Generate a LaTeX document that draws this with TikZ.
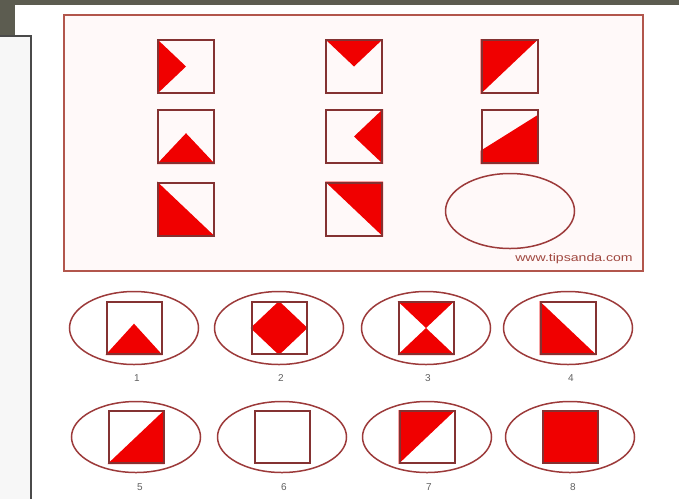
\documentclass[tikz,border=0pt]{standalone}
\usepackage{fontspec}
\setsansfont{Liberation Sans}
\usetikzlibrary{shapes.geometric,calc}
\definecolor{barcol}{HTML}{5C5C50}
\definecolor{framegray}{HTML}{4A4A4A}
\definecolor{sidegray}{HTML}{F7F7F7}
\definecolor{panelline}{HTML}{B2564C}
\definecolor{panelbg}{HTML}{FFF9F9}
\definecolor{tileline}{HTML}{843232}
\definecolor{ovalline}{HTML}{9C3A3A}
\definecolor{tilered}{HTML}{F00000}
\definecolor{numgray}{HTML}{606060}
\definecolor{markcol}{HTML}{A04840}
\pgfdeclarelayer{bg}
\pgfsetlayers{bg,main}
\tikzset{
  tile/.style={draw=tileline, line width=2pt, minimum width=56pt, minimum height=53pt, inner sep=0pt},
  opttile/.style={tile, minimum width=55pt, minimum height=52pt},
  oval/.style={ellipse, draw=ovalline, line width=1.5pt, minimum width=129pt, minimum height=73pt, inner sep=0pt},
  num/.style={font=\sffamily\fontsize{10}{11}\selectfont, text=numgray},
}
\begin{document}
\begin{tikzpicture}[x=1pt,y=-1pt]
  \useasboundingbox (0,0) rectangle (679,499);
  % page frame
  \fill[barcol] (0,0) rectangle (679,5);
  \fill[barcol] (0,0) rectangle (15,35);
  \fill[sidegray] (0,36) rectangle (31,499);
  \draw[framegray, line width=1.8pt] (0,36) -- (31,36) -- (31,499);
  \begin{pgfonlayer}{bg}
    \filldraw[fill=panelbg, draw=panelline, line width=2pt] (64,15) rectangle (643,271);
  \end{pgfonlayer}

  % puzzle grid
  \node[tile] (t11) at (186,66.5) {};
  \node[tile] (t12) at (354,66.5) {};
  \node[tile] (t13) at (509.5,66.5) {};
  \node[tile] (t21) at (186,136.5) {};
  \node[tile] (t22) at (354,136.5) {};
  \node[tile] (t23) at (509.5,136.5) {};
  \node[tile] (t31) at (186,209) {};
  \node[tile] (t32) at (354,209) {};
  \node[oval, minimum height=75pt] (q) at (510,211) {};
  \node[font=\sffamily\fontsize{11}{12}\selectfont, text=markcol] (mark) at (574,259)
    {\scalebox{1.28}[1]{www.tipsanda.com}};

  % answer choices
  \node[oval] (o1) at (134,328) {};
  \node[oval] (o2) at (279,328) {};
  \node[oval] (o3) at (426,328) {};
  \node[oval] (o4) at (568,328) {};
  \node[oval, minimum height=71pt] (o5) at (136,437) {};
  \node[oval, minimum height=71pt] (o6) at (282,437) {};
  \node[oval, minimum height=71pt] (o7) at (427,437) {};
  \node[oval, minimum height=71pt] (o8) at (570,437) {};
  \node[opttile] (s1) at (o1) {};
  \node[opttile] (s2) at (o2) {};
  \node[opttile] (s3) at (o3) {};
  \node[opttile] (s4) at (o4) {};
  \node[opttile] (s5) at (o5) {};
  \node[opttile] (s6) at (o6) {};
  \node[opttile] (s7) at (o7) {};
  \node[opttile] (s8) at (o8) {};
  \node[num] (n1) at (137,378) {1};
  \node[num] (n2) at (281,378) {2};
  \node[num] (n3) at (428,378) {3};
  \node[num] (n4) at (571,378) {4};
  \node[num] (n5) at (140,487) {5};
  \node[num] (n6) at (284,487) {6};
  \node[num] (n7) at (429,487) {7};
  \node[num] (n8) at (573,487) {8};

  % red parts
  \begin{pgfonlayer}{bg}
    \fill[tilered] (t11.north west) -- (t11.center) -- (t11.south west) -- cycle;
    \fill[tilered] (t12.north west) -- (t12.north east) -- (t12.center) -- cycle;
    \fill[tilered] (t13.north west) -- (t13.north east) -- (t13.south west) -- cycle;
    \fill[tilered] (t21.south west) -- ($(t21.south)!0.56!(t21.north)$) -- (t21.south east) -- cycle;
    \fill[tilered] (t22.north east) -- (t22.center) -- (t22.south east) -- cycle;
    \fill[tilered] ($(t23.south west)!0.24!(t23.north west)$) -- ($(t23.south east)!0.9!(t23.north east)$)
      -- (t23.south east) -- (t23.south west) -- cycle;
    \fill[tilered] (t31.north west) -- (t31.south west) -- (t31.south east) -- cycle;
    \fill[tilered] (t32.north west) -- (t32.north east) -- (t32.south east) -- cycle;
    \fill[tilered] (s1.south west) -- ($(s1.south)!0.58!(s1.north)$) -- (s1.south east) -- cycle;
    \fill[tilered] (s2.north) -- (s2.east) -- (s2.south) -- (s2.west) -- cycle;
    \fill[tilered] (s3.north west) -- (s3.north east) -- (s3.center) -- cycle;
    \fill[tilered] (s3.south west) -- (s3.south east) -- (s3.center) -- cycle;
    \fill[tilered] (s4.north west) -- (s4.south west) -- (s4.south east) -- cycle;
    \fill[tilered] (s5.south west) -- (s5.north east) -- (s5.south east) -- cycle;
    \fill[tilered] (s7.north west) -- (s7.north east) -- (s7.south west) -- cycle;
    \fill[tilered] (s8.north west) rectangle (s8.south east);
  \end{pgfonlayer}
\end{tikzpicture}
\end{document}
